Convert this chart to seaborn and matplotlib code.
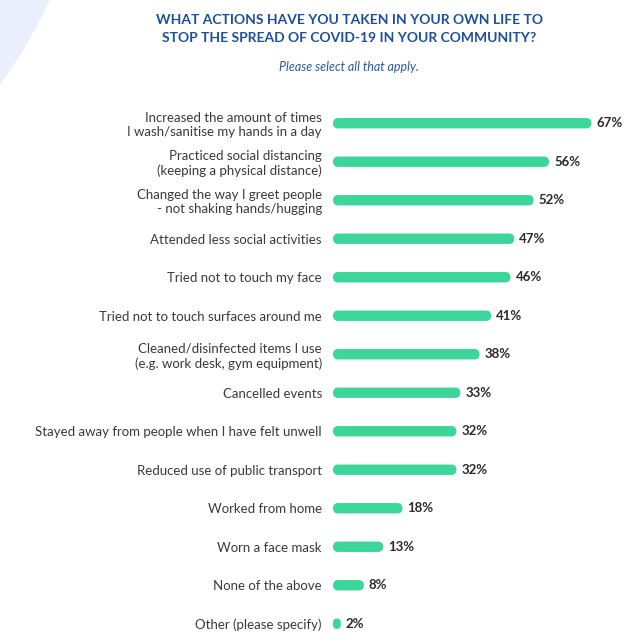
import numpy as np
import pandas as pd
import seaborn as sns
import matplotlib.pyplot as plt
from matplotlib.patches import FancyBboxPatch, Circle
from matplotlib.transforms import IdentityTransform

# survey answers
actions = ["Increased the amount of times\nI wash/sanitise my hands in a day",
           "Practiced social distancing\n(keeping a physical distance)",
           "Changed the way I greet people\n- not shaking hands/hugging",
           "Attended less social activities",
           "Tried not to touch my face",
           "Tried not to touch surfaces around me",
           "Cleaned/disinfected items I use\n(e.g. work desk, gym equipment)",
           "Cancelled events",
           "Stayed away from people when I have felt unwell",
           "Reduced use of public transport",
           "Worked from home",
           "Worn a face mask",
           "None of the above",
           "Other (please specify)"]
percent = [67, 56, 52, 47, 46, 41, 38, 33, 32, 32, 18, 13, 8, 2]

df = pd.DataFrame({"action": actions, "percent": percent})

sns.set_style("white")
plt.rcParams["font.family"] = ["Lato", "DejaVu Sans"]

green = "#3dd69a"
fig = plt.figure(figsize=(6.3, 6.43), dpi=100)
ax = fig.add_axes([0.5286, 0.0, 0.4714, 0.8383])
ax.set_facecolor("none")

sns.barplot(data=df, x="percent", y="action", color=green, width=0.27, ax=ax)
ax.set_xlim(0, 77)
ax.set_ylim(13.5, -0.5)

# swap the square bars for rounded ones
sx = abs(ax.transData.transform((1, 0))[0] - ax.transData.transform((0, 0))[0])
sy = abs(ax.transData.transform((0, 1))[1] - ax.transData.transform((0, 0))[1])
aspect = sx / sy
for p in list(ax.patches):
    x0, y0, w, h = p.get_x(), p.get_y(), p.get_width(), p.get_height()
    r = min(abs(h) / 2 / aspect, w / 2)
    ax.add_patch(FancyBboxPatch((x0, y0), w, h,
                                boxstyle=f"round,pad=0,rounding_size={r}",
                                mutation_aspect=aspect, fc=green, ec="none"))
    p.remove()

for i, v in enumerate(percent):
    ax.text(v + 1.3, i, f"{v}%", va="center", ha="left", fontsize=9.5,
            fontweight="bold", color="#2b2b2b")

ax.set_xlabel("")
ax.set_ylabel("")
ax.set_xticks([])
ax.tick_params(axis="y", length=0, pad=8, labelsize=9.5, labelcolor="#3a3a3a")
for s in ax.spines.values():
    s.set_visible(False)

# decorative arc top left
fig.patches.append(Circle((-400, 850), 495, transform=IdentityTransform(),
                          fc="#ebeffd", ec="none", zorder=-1))

fig.text(0.554, 0.979, "WHAT ACTIONS HAVE YOU TAKEN IN YOUR OWN LIFE TO\nSTOP THE SPREAD OF COVID-19 IN YOUR COMMUNITY?",
         ha="center", va="top", fontsize=10, fontweight="bold", color="#1d4f9c",
         linespacing=1.6)
fig.text(0.554, 0.896, "Please select all that apply.", ha="center", va="center",
         fontsize=9, style="italic", color="#2a5aa3")

fig.savefig("out.png", dpi=100, facecolor="white")
